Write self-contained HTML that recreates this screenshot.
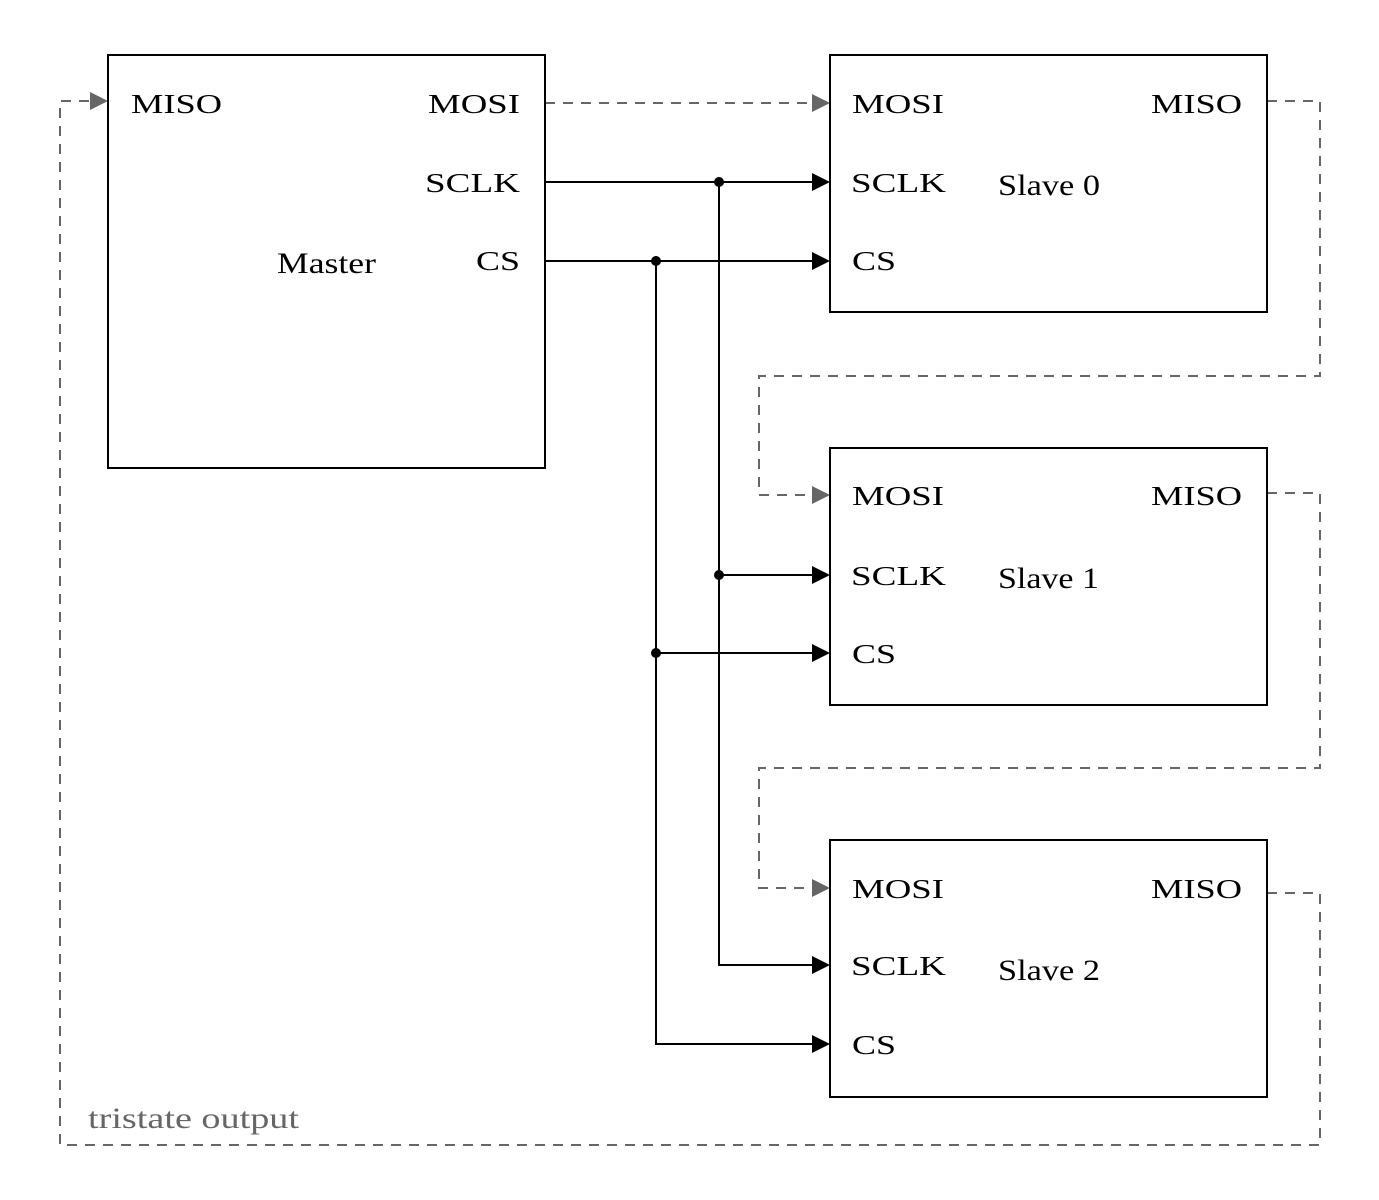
<!DOCTYPE html>
<html><head><meta charset="utf-8"><style>html,body{margin:0;padding:0;background:#fff}svg{display:block}</style></head>
<body>
<svg width="1379" height="1200" viewBox="0 0 1379 1200" xmlns="http://www.w3.org/2000/svg">
<defs>
<marker id="ab" markerWidth="10" markerHeight="10" refX="0" refY="0" viewBox="0 -9 17 18" markerUnits="userSpaceOnUse" orient="auto" overflow="visible"></marker>
</defs>
<g fill="none" stroke="#666" stroke-width="2" stroke-dasharray="10,8">
<path d="M545,103 H812"/>
<path d="M1267,101 H1320 V376 H759 V495 H812"/>
<path d="M1267,493 H1320 V768 H759 V888 H812"/>
<path d="M1267,893 H1320 V1145 H60 V101 H92"/>
</g>
<g fill="#666">
<polygon points="812,94 830,103 812,112"/>
<polygon points="812,486 830,495 812,504"/>
<polygon points="812,879 830,888 812,897"/>
<polygon points="90,92 108,101 90,110"/>
</g>
<g fill="none" stroke="#000" stroke-width="2">
<rect x="108" y="55" width="437" height="413"/>
<rect x="830" y="55" width="437" height="257"/>
<rect x="830" y="448" width="437" height="257"/>
<rect x="830" y="840" width="437" height="257"/>
<path d="M545,182 H814"/>
<path d="M545,261 H814"/>
<path d="M719,182 V965 H814"/>
<path d="M656,261 V1044 H814"/>
<path d="M719,575 H814"/>
<path d="M656,653 H814"/>
</g>
<g fill="#000">
<polygon points="812,173 830,182 812,191"/>
<polygon points="812,252 830,261 812,270"/>
<polygon points="812,566 830,575 812,584"/>
<polygon points="812,644 830,653 812,662"/>
<polygon points="812,956 830,965 812,974"/>
<polygon points="812,1035 830,1044 812,1053"/>
<circle cx="719" cy="182" r="5"/>
<circle cx="656" cy="261" r="5"/>
<circle cx="719" cy="575" r="5"/>
<circle cx="656" cy="653" r="5"/>
</g>
<g font-family="Liberation Serif, serif" font-size="27" fill="#000" lengthAdjust="spacingAndGlyphs">
<text x="131" y="113" textLength="91" lengthAdjust="spacingAndGlyphs">MISO</text>
<text x="428" y="113" textLength="92" lengthAdjust="spacingAndGlyphs">MOSI</text>
<text x="425" y="192" textLength="95" lengthAdjust="spacingAndGlyphs">SCLK</text>
<text x="476" y="270" textLength="44" lengthAdjust="spacingAndGlyphs">CS</text>

<text x="852" y="113" textLength="92" lengthAdjust="spacingAndGlyphs">MOSI</text>
<text x="1151" y="113" textLength="91" lengthAdjust="spacingAndGlyphs">MISO</text>
<text x="851" y="192" textLength="95" lengthAdjust="spacingAndGlyphs">SCLK</text>
<text x="852" y="270" textLength="44" lengthAdjust="spacingAndGlyphs">CS</text>

<text x="852" y="505" textLength="92" lengthAdjust="spacingAndGlyphs">MOSI</text>
<text x="1151" y="505" textLength="91" lengthAdjust="spacingAndGlyphs">MISO</text>
<text x="851" y="585" textLength="95" lengthAdjust="spacingAndGlyphs">SCLK</text>
<text x="852" y="663" textLength="44" lengthAdjust="spacingAndGlyphs">CS</text>

<text x="852" y="898" textLength="92" lengthAdjust="spacingAndGlyphs">MOSI</text>
<text x="1151" y="898" textLength="91" lengthAdjust="spacingAndGlyphs">MISO</text>
<text x="851" y="975" textLength="95" lengthAdjust="spacingAndGlyphs">SCLK</text>
<text x="852" y="1054" textLength="44" lengthAdjust="spacingAndGlyphs">CS</text>
</g>
<g font-family="Liberation Serif, serif" font-size="30" fill="#000">
<text x="277" y="273" textLength="99" lengthAdjust="spacingAndGlyphs">Master</text>
<text x="998" y="195" textLength="102" lengthAdjust="spacingAndGlyphs">Slave 0</text>
<text x="998" y="588" textLength="101" lengthAdjust="spacingAndGlyphs">Slave 1</text>
<text x="998" y="980" textLength="102" lengthAdjust="spacingAndGlyphs">Slave 2</text>
<text x="88" y="1128" fill="#666" textLength="211" lengthAdjust="spacingAndGlyphs">tristate output</text>
</g>
</svg>
</body></html>
